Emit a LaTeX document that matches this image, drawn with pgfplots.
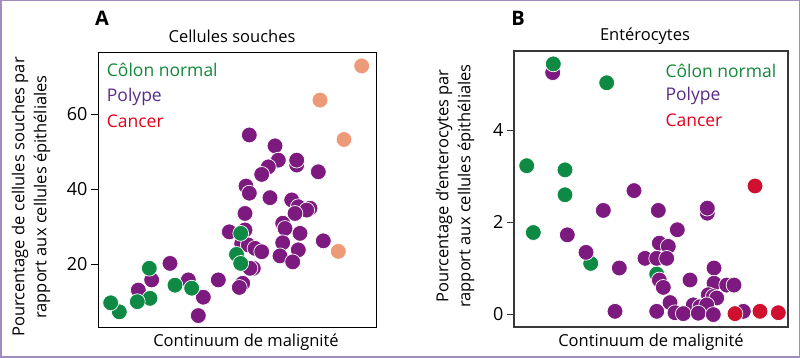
\documentclass[border=0pt]{standalone}
\usepackage{fontspec}
\setmainfont{Open Sans}
\usepackage{pgfplots}
\pgfplotsset{compat=1.18}
\definecolor{cgreen}{HTML}{0E8A45}
\definecolor{cpurple}{HTML}{7D1A7F}
\definecolor{csalmon}{HTML}{EC9A78}
\definecolor{cred}{HTML}{D0102E}
\definecolor{tgreen}{HTML}{13893A}
\definecolor{tpurple}{HTML}{5B2C86}
\definecolor{tred}{HTML}{E2001A}
\definecolor{framepurple}{HTML}{A08CC0}
\pgfplotsset{
  dots/.style={only marks, mark=*, mark size=7.9pt, mark options={fill=#1, draw=white, line width=0.7pt}},
  panel/.style={anchor=south west, scale only axis, xtick=\empty, ytick pos=left,
    tick align=outside, major tick length=7pt, clip=false,
    /pgf/number format/assume math mode=true,
    yticklabel style={font=\fontsize{18}{20}\selectfont}},
}
\newcommand{\lab}{\fontsize{16.5}{18}\selectfont}
\newcommand{\leg}{\fontsize{17.5}{19}\selectfont}
\begin{document}
\begin{tikzpicture}
\useasboundingbox (0pt,0pt) rectangle (800pt,358pt);
\draw[framepurple, line width=1.5pt] (0.75pt,0.75pt) rectangle (799.25pt,357.25pt);
% ---------------- Panel A ----------------
\begin{axis}[panel, at={(98pt,31pt)}, width=278pt, height=275pt,
  xmin=98, xmax=376, ymin=3.36, ymax=76.6, ytick={20,40,60},
  axis line style={black, line width=0.8pt}, ytick style={black, line width=0.8pt}]
\addplot[dots=cpurple] coordinates {
(249.3,54.5) (275,51.6) (278.3,47.8) (268.3,46.0) (261.7,44.0) (296.7,46.5) (296.7,47.8)
(318.3,44.7) (246,40.9) (249.3,39.0) (270,37.8) (245,33.6) (291.7,37.2) (298.3,35.4)
(310,35.0) (306.7,34.5) (295,33.6) (282.7,31.0) (285,29.6) (300,28.3) (229.3,28.7)
(245,29.2) (323.3,26.3) (241.7,25.6) (248.3,25.2) (255,24.3) (261.7,23.4) (282.7,25.8)
(298.3,23.9) (280,22.3) (292.7,20.7) (253.3,19.0) (250,19.0) (242.7,15.0) (239.3,13.9)
(218.3,15.9) (170,20.3) (188.3,15.9) (151.7,15.9) (138.3,13.2) (203.3,11.3) (198.3,6.4)
};
\addplot[dots=cgreen] coordinates {
(119.3,7.4) (110.7,9.8) (150,11.0) (137.3,10.1) (149.3,19.0) (191.7,13.7) (175,14.5)
(236.5,22.7) (240.7,28.3) (240.7,20.3)
};
\addplot[dots=csalmon] coordinates {
(361.7,72.9) (320,63.8) (344,53.3) (338.3,23.5)
};
\end{axis}
% ---------------- Panel B ----------------
\begin{axis}[panel, at={(514pt,31pt)}, width=274pt, height=276pt,
  xmin=514, xmax=788, ymin=-0.27, ymax=5.72, ytick={0,2,4},
  axis line style={black!78, line width=1.4pt}, ytick style={black!78, line width=1.2pt}]
\addplot[dots=cgreen] coordinates {
(606.7,5.03) (526.7,3.23) (565,3.14) (565,2.60) (533.3,1.78) (590.7,1.11) (656.7,0.88)
};
\addplot[dots=cpurple] coordinates {
(552.7,5.25) (634,2.69) (603.3,2.26) (658.3,2.26) (707.3,2.20) (707.3,2.31) (677.3,1.84)
(567.3,1.73) (659.3,1.55) (668.3,1.48) (586,1.35) (645,1.22) (656.7,1.22) (666.7,1.22)
(619.3,1.01) (714,1.01) (659.3,0.75) (663.3,0.59) (690,0.75) (714,0.68) (726.7,0.64)
(734,0.64) (708.3,0.43) (713.3,0.39) (716.7,0.36) (670,0.26) (693.3,0.21) (700,0.17)
(706.7,0.21) (615,0.07) (656.7,0.07) (675,0.04) (683.3,0.02) (698.3,0.03) (713.3,0.0)
(743.3,0.07)
};
\addplot[dots=cgreen] coordinates {(553.3,5.44)};
\addplot[dots=cred] coordinates {
(755,2.79) (735,0.02) (760,0.07) (778.3,0.04)
};
\end{axis}
% ---------------- Texts ----------------
\node[font=\fontsize{20}{22}\selectfont\bfseries] at (102pt,340pt) {A};
\node[font=\fontsize{20}{22}\selectfont\bfseries] at (518pt,340pt) {B};
\node[font=\lab] at (232pt,322pt) {Cellules souches};
\node[font=\lab] at (645pt,322pt) {Entérocytes};
\node[font=\lab] at (246pt,16pt) {Continuum de malignité};
\node[font=\lab] at (651pt,16pt) {Continuum de malignité};
\node[font=\lab, rotate=90] at (20pt,161pt) {Pourcentage de cellules souches par};
\node[font=\lab, rotate=90] at (42pt,161pt) {rapport aux cellules épithéliales};
\node[font=\lab, rotate=90] at (444pt,172pt) {Pourcentage d’enterocytes par};
\node[font=\lab, rotate=90] at (466pt,172pt) {rapport aux cellules épithéliales};
\node[font=\leg, text=tgreen, anchor=west, inner sep=0pt] at (106.7pt,288pt) {Côlon normal};
\node[font=\leg, text=tpurple, anchor=west, inner sep=0pt] at (106.7pt,261.3pt) {Polype};
\node[font=\leg, text=tred, anchor=west, inner sep=0pt] at (106.7pt,236.3pt) {Cancer};
\node[font=\leg, text=tgreen, anchor=west, inner sep=0pt] at (665.3pt,287.3pt) {Côlon normal};
\node[font=\leg, text=tpurple, anchor=west, inner sep=0pt] at (665.3pt,261.7pt) {Polype};
\node[font=\leg, text=tred, anchor=west, inner sep=0pt] at (665.3pt,237.3pt) {Cancer};
\end{tikzpicture}
\end{document}
